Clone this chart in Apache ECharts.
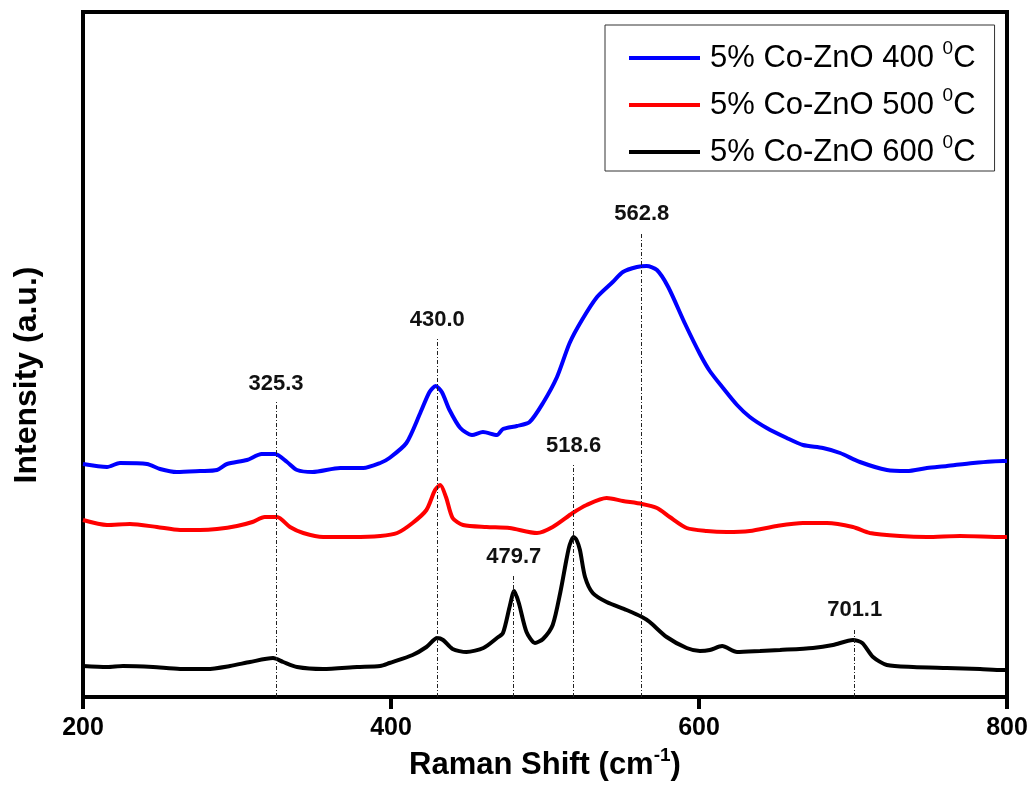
<!DOCTYPE html>
<html>
<head>
<meta charset="utf-8">
<title>Raman spectra of 5% Co-ZnO</title>
<script src="https://cdn.jsdelivr.net/npm/echarts@6/dist/echarts.min.js"></script>
<style>
  html, body { margin: 0; padding: 0; background: #fff; }
  #chart { width: 1032px; height: 806px; }
</style>
</head>
<body>
<div id="chart"></div>
<script>
// Raman shift (cm^-1) vs intensity (a.u.), curves offset vertically
const seriesNames = ['5% Co-ZnO 400', '5% Co-ZnO 500', '5% Co-ZnO 600'];
const seriesColors = ['#0000ff', '#ff0000', '#000000'];

const spectrum400 = [
  [200,233],[215.6,230],[224,234],[241.6,233],[250,228],[261,225],[276,226],[287,227],
  [293.5,233],[306.5,237],[316,243],[324.7,243],[332.5,235],[339,227],[349,225],[367,229],
  [382,229],[393,234],[399,239],[410,254],[419,284],[425,305],[429,311],[433,305],
  [438,287],[445,269],[452.6,262],[459.7,265],[468.8,262],[472.7,268],[481.8,271],[490,275],
  [498.7,294],[507.8,320],[516,354],[524,377],[533.8,400],[544,415],[550.6,425],[559.7,430],
  [566,431],[572.7,427],[580,410],[591,373],[600.6,343],[607,326],[615.6,309],[624.7,292],
  [633,280],[644,269],[657,259],[667.5,252],[680.5,249],[691.6,244],[704.5,235],[722,227],
  [735,226],[748,229],[761,231],[778,234],[797.4,236],[800,236]
];

const spectrum500 = [
  [200,177],[215.6,172],[230.5,173],[248,170],[263,167],[276,167],[287,168],[300,171],
  [310,175],[318,180],[326,180],[334.4,170],[343,164],[356,160],[375,160],[393,161],
  [404,164],[414,174],[423,187],[428.6,207],[432,212],[435.7,200],[440,179],[446.8,172],
  [462,170],[477,169],[494.8,164],[505,170],[518,184],[527,192],[540,199],[550.6,196],
  [563,193],[572.7,189],[581,180],[592,169],[605,166],[618,165],[633,166],[650.6,171],
  [667.5,174],[683,174],[700,170],[711,164],[730.5,161],[748,160],[769.5,161],[797.4,160],
  [800,160]
];

const spectrum600 = [
  [200,31],[215.6,30],[226,31],[245.5,30],[263,28],[280.5,28],[295.5,31],[308.4,35],
  [323.4,39],[330,35],[339,30],[355.8,28],[378,30],[393,31],[399,34],[414,42],
  [423,50],[430,59],[433.8,57],[440,48],[449,45],[460,49],[468.8,59],[472.7,64],
  [477,90],[480,106],[483,94],[488,65],[493.5,54],[498.7,58],[505,72],[510,105],
  [514,138],[516,152],[518.6,160],[520.5,157],[522.7,147],[526,120],[531,104],[540,95],
  [553,87],[563,80],[568,75],[579,60],[592,49],[600.6,46],[607,47],[615,51],
  [624.7,45],[639.6,46],[652.6,47],[674,49],[687,52],[700,57],[706,54],[713,40],
  [722,32],[739,30],[761,29],[782.5,28],[797,27],[800,27]
];

// Peak positions and the height each guide line reaches
const peakPositions = [325.3, 430.0, 479.7, 518.6, 562.8, 701.1];
const peakLineTops = [295, 359, 122, 233, 465, 69];

const xTicks = { min: 200, max: 800, interval: 200 };
const yRange = { min: 0, max: 685 };

const FONT = "'Liberation Sans', Arial, Helvetica, sans-serif";

const spectra = [spectrum400, spectrum500, spectrum600];

const peakLines = peakPositions.map((p, i) => [
  { coord: [p, yRange.min], label: { formatter: p.toFixed(1) } },
  { coord: [p, peakLineTops[i]] }
]);

const chart = echarts.init(document.getElementById('chart'), null, { renderer: 'canvas' });

const option = {
  animation: false,
  backgroundColor: '#ffffff',
  grid: {
    left: 83, right: 25, top: 12, bottom: 109,
    show: true, borderColor: '#000', borderWidth: 4, backgroundColor: 'transparent'
  },
  xAxis: {
    type: 'value',
    min: xTicks.min, max: xTicks.max, interval: xTicks.interval,
    name: 'Raman Shift (cm{sup|-1})',
    nameLocation: 'middle',
    nameGap: 41,
    nameTextStyle: {
      fontFamily: FONT, fontSize: 31, fontWeight: 'bold', color: '#000', lineHeight: 40,
      rich: {
        sup: { fontFamily: FONT, fontSize: 19, fontWeight: 'bold', color: '#000', lineHeight: 14, verticalAlign: 'top' }
      }
    },
    axisLine: { show: false },
    axisTick: { show: true, inside: false, length: 12, lineStyle: { color: '#000', width: 4 } },
    axisLabel: { fontFamily: FONT, fontSize: 25, fontWeight: 'bold', color: '#000', margin: 19 },
    splitLine: { show: false }
  },
  yAxis: {
    type: 'value',
    min: yRange.min, max: yRange.max,
    axisLine: { show: false },
    axisTick: { show: false },
    axisLabel: { show: false },
    splitLine: { show: false }
  },
  legend: {
    orient: 'vertical',
    left: 605, top: 25,
    data: seriesNames,
    icon: 'rect',
    itemWidth: 71, itemHeight: 4,
    itemGap: 9,
    padding: [14, 19, 0, 24],
    borderColor: '#333', borderWidth: 1,
    backgroundColor: '#fff',
    formatter: (name) => name + ' {sup|0}C',
    textStyle: {
      fontFamily: FONT, fontSize: 31, color: '#000', lineHeight: 38,
      padding: [0, 0, 0, 5],
      rich: {
        sup: { fontFamily: FONT, fontSize: 19, color: '#000', lineHeight: 13, verticalAlign: 'top' }
      }
    }
  },
  graphic: [{
    type: 'text',
    x: 27, y: 375,
    rotation: Math.PI / 2,
    style: {
      text: 'Intensity (a.u.)',
      font: 'bold 32px ' + FONT,
      fill: '#000',
      textAlign: 'center',
      textVerticalAlign: 'middle'
    }
  }],
  series: [
    {
      name: 'peaks',
      type: 'line',
      data: [],
      z: 1,
      silent: true,
      markLine: {
        silent: true,
        symbol: ['none', 'none'],
        lineStyle: { color: '#222', width: 1, type: [4, 2, 1, 2] },
        label: {
          show: true, position: 'end', distance: 7,
          fontFamily: FONT, fontSize: 22, fontWeight: 'bold', color: '#111'
        },
        emphasis: { disabled: true },
        data: peakLines
      }
    }
  ].concat(spectra.map((d, i) => ({
    name: seriesNames[i],
    type: 'line',
    data: d,
    z: 3,
    showSymbol: false,
    symbol: 'none',
    smooth: 0.25,
    lineStyle: { color: seriesColors[i], width: 4 },
    itemStyle: { color: seriesColors[i] }
  })))
};

chart.setOption(option);
</script>
</body>
</html>
